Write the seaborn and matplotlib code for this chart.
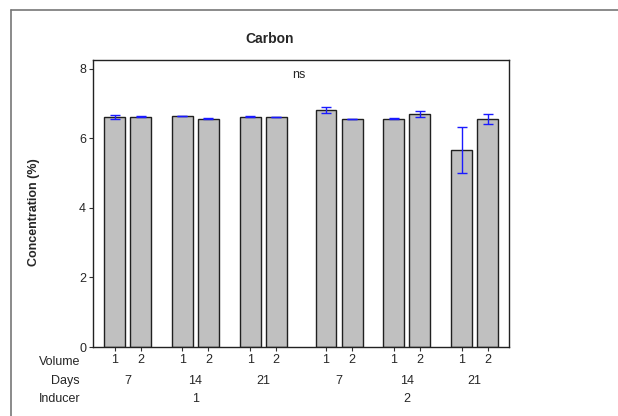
import matplotlib
matplotlib.use("Agg")
import matplotlib.pyplot as plt
import seaborn as sns
import numpy as np
import pandas as pd
from matplotlib.lines import Line2D

# ---- data ----
inducer = ["1"] * 6 + ["2"] * 6
days = ["7", "7", "14", "14", "21", "21"] * 2
volume = ["1", "2"] * 6
means = [6.61, 6.62, 6.64, 6.56, 6.62, 6.61, 6.80, 6.56, 6.56, 6.70, 5.66, 6.55]
errs = [0.06, 0.02, 0.01, 0.02, 0.02, 0.01, 0.09, 0.00, 0.02, 0.08, 0.67, 0.13]

# ---- layout of grouped positions ----
pair_step = 2.6
inducer_extra = 0.31
pos = []
for i in range(len(means)):
    pair_idx = i // 2
    ind_idx = i // 6
    pos.append(pair_idx * pair_step + ind_idx * inducer_extra + (i % 2))
pos = np.array(pos)

df = pd.DataFrame({"pos": pos, "mean": means})

sns.set_style("ticks")
plt.rcParams["font.family"] = ["Liberation Sans", "DejaVu Sans"]

fig = plt.figure(figsize=(6.18, 4.16), dpi=100)
ax = fig.add_axes([93 / 618, 1 - 347 / 416, (509 - 93) / 618, (347 - 59.5) / 416])

sns.barplot(data=df, x="pos", y="mean", native_scale=True, color="#C0C0C0",
            saturation=1, edgecolor="#202020", linewidth=1.0, errorbar=None,
            width=0.8, ax=ax)
ax.errorbar(pos, means, yerr=errs, fmt="none", ecolor="#1a1aff",
            elinewidth=1.0, capsize=3.6, capthick=1.0, zorder=5)

ax.set_xlim(pos[0] - 0.83, pos[-1] + 0.82)
ax.set_ylim(0, 8.26)
ax.set_yticks([0, 2, 4, 6, 8])
ax.set_yticklabels(["0", "2", "4", "6", "8"], fontsize=9)
ax.set_xticks(pos)
ax.set_xticklabels(volume, fontsize=9)
ax.tick_params(axis="both", direction="out", length=3, width=0.8, color="#333333", pad=2)
ax.set_xlabel("")
ax.set_ylabel("Concentration (%)", fontsize=9, fontweight="bold")
ax.yaxis.set_label_coords(-0.128, 0.47)
for s in ax.spines.values():
    s.set_visible(True)
    s.set_color("#222222")
    s.set_linewidth(1.0)

# Days and Inducer rows
trans = ax.get_xaxis_transform()
for k in range(0, len(pos), 2):
    ax.text((pos[k] + pos[k + 1]) / 2, -0.118, days[k], transform=trans,
            ha="center", va="center", fontsize=9)
for ind in ["1", "2"]:
    idx = [i for i, v in enumerate(inducer) if v == ind]
    ax.text((pos[idx[0]] + pos[idx[-1]]) / 2, -0.181, ind, transform=trans,
            ha="center", va="center", fontsize=9)

fig.text(80 / 618, 1 - 362 / 416, "Volume", ha="right", va="center", fontsize=9)
fig.text(80 / 618, 1 - 381 / 416, "Days", ha="right", va="center", fontsize=9)
fig.text(80 / 618, 1 - 399 / 416, "Inducer", ha="right", va="center", fontsize=9)

fig.text(270 / 618, 1 - 39 / 416, "Carbon", ha="center", va="center",
         fontsize=10, fontweight="bold")
fig.text(299 / 618, 1 - 75 / 416, "ns", ha="center", va="center", fontsize=9)

# outer frame
fig.add_artist(Line2D([11 / 618, 11 / 618], [0, 1 - 10 / 416], color="#777777", lw=1.2))
fig.add_artist(Line2D([11 / 618, 1], [1 - 10 / 416, 1 - 10 / 416], color="#777777", lw=1.2))

fig.savefig("out.png", dpi=100)
